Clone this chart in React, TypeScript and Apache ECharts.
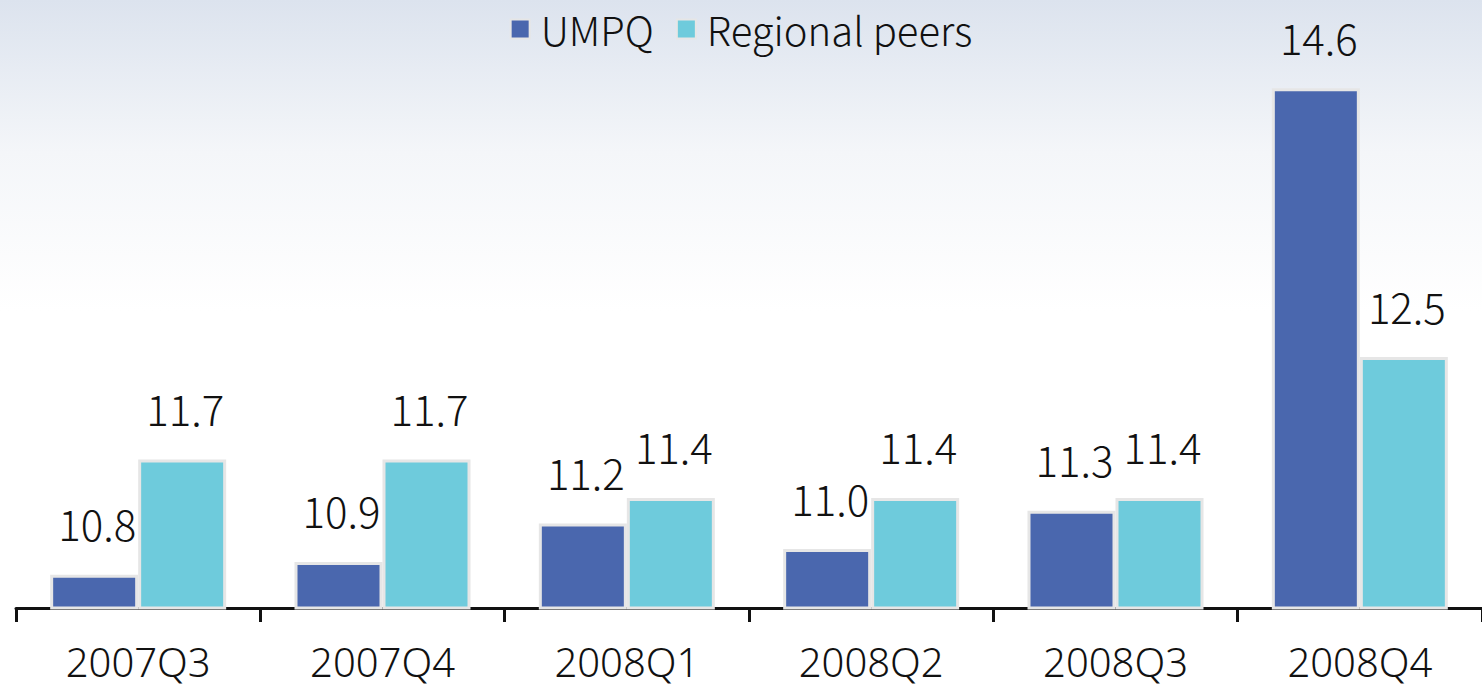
import React, { useEffect, useRef } from "react";
import * as echarts from "echarts";

const categories = ["2007Q3", "2007Q4", "2008Q1", "2008Q2", "2008Q3", "2008Q4"];
const umpq = [10.8, 10.9, 11.2, 11.0, 11.3, 14.6];
const peers = [11.7, 11.7, 11.4, 11.4, 11.4, 12.5];
const seriesNames = ["UMPQ", "Regional peers"];

const FONT = "'Noto Sans CJK SC Light', 'Noto Sans CJK SC', 'Noto Sans', sans-serif";
const AXIS_FONT = "'Noto Sans', sans-serif";

export default function App() {
  const ref = useRef<HTMLDivElement>(null);
  useEffect(() => {
    document.body.style.margin = "0";
    const chart = echarts.init(ref.current!, null, { renderer: "svg" });
    const label = {
      show: true,
      position: "top" as const,
      distance: 30,
      offset: [3, 0],
      fontSize: 42,
      lineHeight: 44,
      fontFamily: FONT,
      fontWeight: 300,
      color: "#111",
      formatter: (p: any) => p.value.toFixed(1),
    };
    chart.setOption({
      animation: false,
      backgroundColor: {
        type: "linear",
        x: 0,
        y: 0,
        x2: 0,
        y2: 1,
        colorStops: [
          { offset: 0, color: "#dce3ee" },
          { offset: 0.22, color: "#f4f6f9" },
          { offset: 0.45, color: "#ffffff" },
          { offset: 1, color: "#ffffff" },
        ],
      },
      legend: {
        top: 4,
        left: "center",
        icon: "rect",
        itemWidth: 19,
        itemHeight: 19,
        itemGap: 22,
        textStyle: { fontSize: 40, fontFamily: FONT, fontWeight: 300, color: "#111", padding: [0, 0, 0, 6] },
        data: seriesNames,
      },
      grid: { left: 16, top: 0, width: 1471, bottom: 83 },
      xAxis: {
        type: "category",
        data: categories,
        axisLine: { lineStyle: { color: "#111", width: 3 } },
        axisTick: { show: true, length: 14, lineStyle: { color: "#111", width: 3 } },
        axisLabel: {
          fontSize: 40,
          lineHeight: 38,
          fontFamily: AXIS_FONT,
          fontWeight: 300,
          color: "#111",
          margin: 34,
        },
      },
      yAxis: { type: "value", min: 10.54, max: 15.29, show: false, splitLine: { show: false } },
      series: [
        {
          name: seriesNames[0],
          type: "bar",
          data: umpq,
          barWidth: 88,
          barGap: "0%",
          itemStyle: { color: "#4a67ae", borderColor: "#e6e6e6", borderWidth: 3 },
          label,
        },
        {
          name: seriesNames[1],
          type: "bar",
          data: peers,
          barWidth: 88,
          barGap: "0%",
          itemStyle: { color: "#6ecbdc", borderColor: "#e6e6e6", borderWidth: 3 },
          label,
        },
      ],
    });
    return () => chart.dispose();
  }, []);
  return <div ref={ref} style={{ width: 1482, height: 691 }} />;
}
